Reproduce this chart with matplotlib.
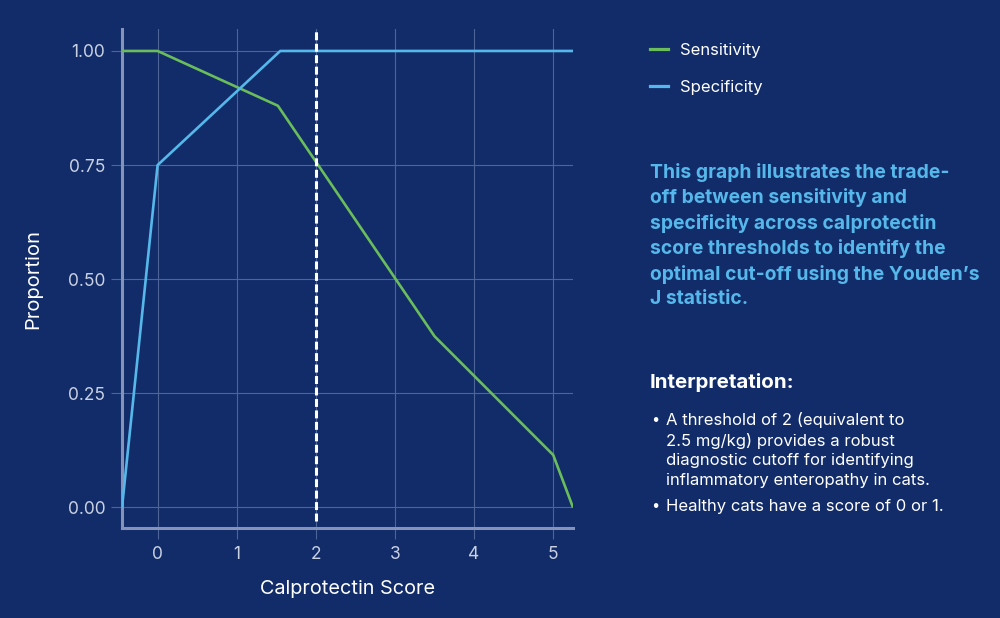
import matplotlib
matplotlib.use("Agg")
import matplotlib.pyplot as plt
from matplotlib.lines import Line2D

# ---- data ----
sens_x = [-0.45, 0.0, 1.52, 3.5, 5.0, 5.25]
sens_y = [1.0, 1.0, 0.88, 0.375, 0.115, 0.0]
spec_x = [-0.45, 0.0, 1.55, 5.25]
spec_y = [0.0, 0.75, 1.0, 1.0]
cutoff = 2
x_ticks = [0, 1, 2, 3, 4, 5]
y_ticks = [0.0, 0.25, 0.5, 0.75, 1.0]
y_tick_labels = ["0.00", "0.25", "0.50", "0.75", "1.00"]
series_names = ["Sensitivity", "Specificity"]

BG = "#112c69"
GREEN = "#6bbd5b"
BLUE = "#56b8ea"
GRID = "#4d6498"
SPINE = "#8593b8"
TICKTXT = "#c9d1e2"
FONT = ["Inter", "DejaVu Sans"]

plt.rcParams["font.family"] = FONT

fig = plt.figure(figsize=(10, 6.18), dpi=100, facecolor=BG)
ax = fig.add_axes([0.122, 0.1456, 0.451, 0.8074])
ax.set_facecolor(BG)

ax.plot(sens_x, sens_y, color=GREEN, lw=1.9, solid_capstyle="butt", zorder=3)
ax.plot(spec_x, spec_y, color=BLUE, lw=1.9, solid_capstyle="butt", zorder=3)
ax.plot([cutoff, cutoff], [-0.03, 1.05], color="white", lw=2.2,
        dashes=(2.6, 1.15), zorder=4)

ax.set_xlim(-0.45, 5.25)
ax.set_ylim(-0.045, 1.048)
ax.set_xticks(x_ticks)
ax.set_yticks(y_ticks)
ax.set_yticklabels(y_tick_labels)
ax.grid(True, color=GRID, lw=0.8)
ax.set_axisbelow(True)

for s in ["top", "right"]:
    ax.spines[s].set_visible(False)
for s in ["left", "bottom"]:
    ax.spines[s].set_color(SPINE)
    ax.spines[s].set_linewidth(2.2)

ax.tick_params(axis="both", length=8, width=0.8, color=GRID,
               labelcolor=TICKTXT, labelsize=12.5)
ax.tick_params(axis="x", pad=5)
ax.tick_params(axis="y", pad=4)

ax.set_xlabel("Calprotectin Score", color="white", fontsize=14.3, labelpad=12)
ax.set_ylabel("Proportion", color="white", fontsize=14.5, labelpad=18)

# legend
handles = [Line2D([], [], color=GREEN, lw=2.3), Line2D([], [], color=BLUE, lw=2.3)]
leg = fig.legend(handles, series_names, loc="upper left",
                 bbox_to_anchor=(0.635, 0.955), frameon=False,
                 handlelength=1.1, handletextpad=0.72, labelspacing=1.34,
                 fontsize=12)
for t in leg.get_texts():
    t.set_color("white")

para = ("This graph illustrates the trade-\n"
        "off between sensitivity and\n"
        "specificity across calprotectin\n"
        "score thresholds to identify the\n"
        "optimal cut-off using the Youden\u2019s\n"
        "J statistic.")
fig.text(0.650, 1 - 163 / 618, para, color=BLUE, fontsize=13.9,
         fontweight="bold", va="top", ha="left", linespacing=1.43)

fig.text(0.650, 1 - 382 / 618, "Interpretation:", color="white",
         fontsize=14.8, fontweight="bold", va="center", ha="left")

b1 = ("A threshold of 2 (equivalent to\n"
      "2.5 mg/kg) provides a robust\n"
      "diagnostic cutoff for identifying\n"
      "inflammatory enteropathy in cats.")
b2 = "Healthy cats have a score of 0 or 1."
fig.text(0.651, 1 - 420 / 618, "\u2022", color="white", fontsize=10.5, va="center")
fig.text(0.666, 1 - 412 / 618, b1, color="white", fontsize=12, va="top",
         ha="left", linespacing=1.37)
fig.text(0.651, 1 - 506 / 618, "\u2022", color="white", fontsize=10.5, va="center")
fig.text(0.666, 1 - 506 / 618, b2, color="white", fontsize=12, va="center",
         ha="left")

fig.savefig("out.png", dpi=100, facecolor=BG)
